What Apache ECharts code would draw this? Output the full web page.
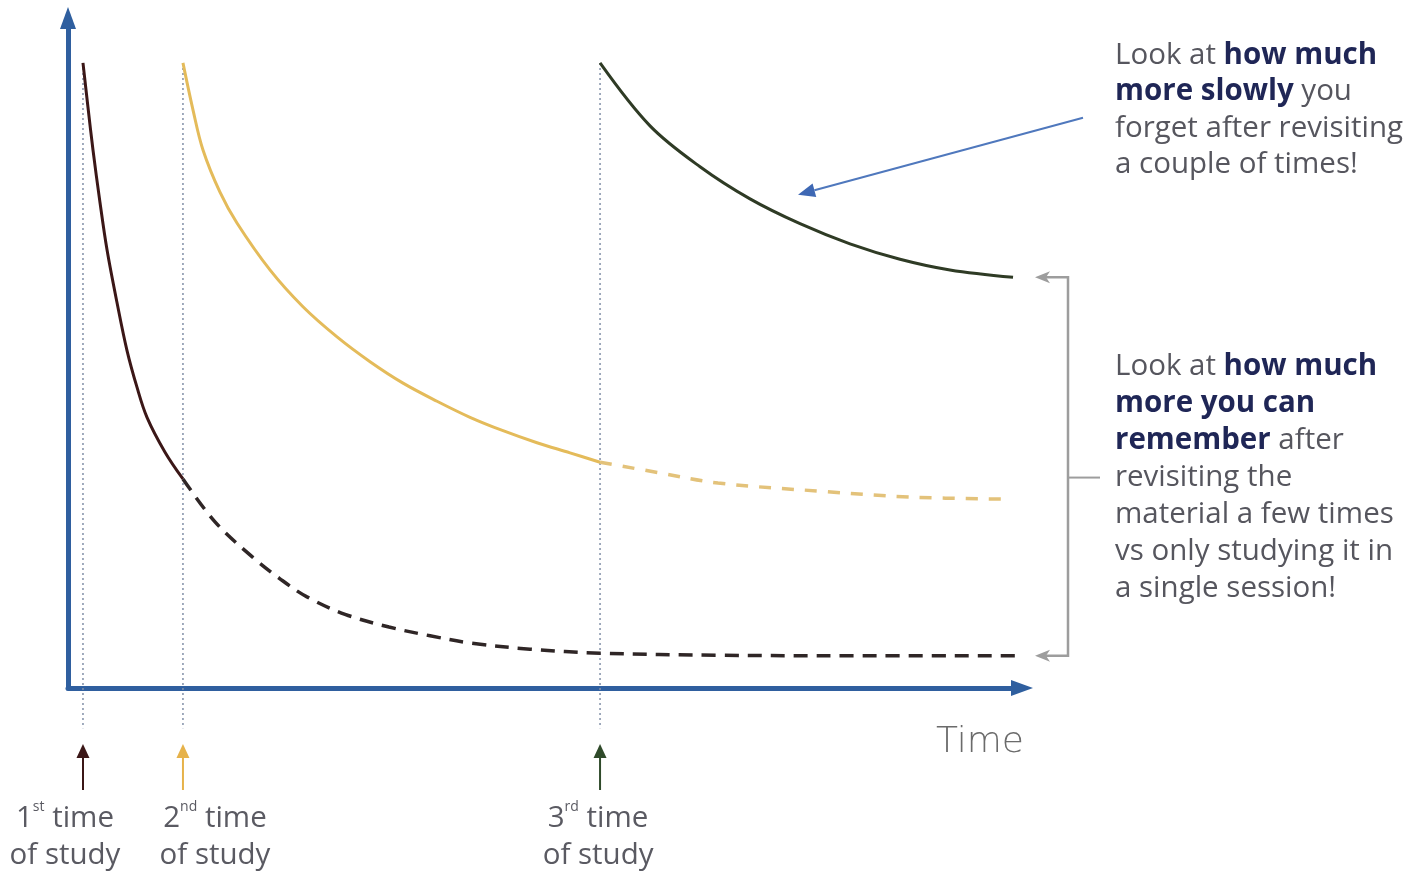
<!DOCTYPE html>
<html><head><meta charset="utf-8">
<script src="https://cdn.jsdelivr.net/npm/echarts@6/dist/echarts.min.js"></script>
<style>html,body{margin:0;padding:0;background:#fff}#c{width:1425px;height:872px}</style>
</head><body><div id="c"></div>
<script>
// ---- data (time units on x, retention % on y) ----
const studyTimes = [1.57, 12.05, 55.77];
const studyOrdinals = [['1', 'st'], ['2', 'nd'], ['3', 'rd']];
const firstSolidX = [1.57, 2.10, 2.62, 3.35, 4.09, 5.14, 6.18, 7.23, 8.28, 10.17, 12.05];
const firstSolidY = [93.3, 86.6, 80.3, 72.5, 65.4, 57.5, 50.4, 44.9, 40.4, 35.2, 31.2];
const firstDashX = [12.05, 15.41, 19.29, 22.22, 25.05, 29.04, 33.65, 37.95, 42.24, 48.43, 55.77, 68.13, 81.97, 99.69];
const firstDashY = [31.2, 24.8, 19.6, 16.3, 13.6, 11.0, 9.1, 7.8, 6.7, 5.8, 5.2, 4.9, 4.8, 4.8];
const secondSolidX = [12.05, 13.1, 14.15, 15.93, 17.71, 21.17, 24.63, 28.2, 31.66, 35.12, 38.68, 42.14, 45.6, 49.16, 52.62, 55.77];
const secondSolidY = [93.3, 86.3, 80.3, 74.0, 69.4, 62.4, 56.9, 52.4, 48.7, 45.5, 42.8, 40.4, 38.4, 36.6, 35.1, 33.7];
const secondDashX = [55.77, 62.05, 68.13, 79.56, 88.16, 97.9];
const secondDashY = [33.7, 32.1, 30.6, 29.3, 28.5, 28.2];
const thirdSolidX = [55.77, 61.01, 66.25, 71.49, 76.73, 81.97, 87.21, 92.45, 99.06];
const thirdSolidY = [93.3, 83.9, 77.8, 73.0, 69.3, 66.3, 64.0, 62.4, 61.3];
const axisName = 'Time';
const note1 = '{g|Look at }{b|how much}\n{b|more slowly}{g| you}\n{g|forget after revisiting}\n{g|a couple of times!}';
const note2 = '{g|Look at }{b|how much}\n{b|more you can}\n{b|remember}{g| after}\n{g|revisiting the}\n{g|material a few times}\n{g|vs only studying it in}\n{g|a single session!}';

// ---- styling ----
const AXIS = '#2f5f9f';
const C1 = '#3b1717', C1D = '#2f2626';
const C2 = '#e4bb5a', C2D = '#e3c27a';
const C3 = '#2f3b25';
const studyColors = ['#3b1717', '#e6b24a', '#2f4a2a'];
const DOT = '#8290a8';
const FONT = 'Open Sans';

const zip = (xs, ys) => xs.map((x, i) => [x, ys[i]]);
const chart = echarts.init(document.getElementById('c'), null, {renderer: 'canvas'});

const dotSeries = studyTimes.map(t => ({
  type: 'line', data: [[t, thirdSolidY[0]], [t, -6]], clip: false, symbol: 'none', silent: true, z: 1,
  lineStyle: {type: [2, 3], color: DOT, width: 1.5}
}));

const curve = (xs, ys, color, width, type) => ({
  type: 'line', data: zip(xs, ys), symbol: 'none', smooth: 0.35, silent: true, z: 3,
  lineStyle: {color: color, width: width, type: type || 'solid', cap: 'butt'}
});

chart.setOption({
  animation: false,
  backgroundColor: '#ffffff',
  grid: {left: 68, right: 403, top: 18, bottom: 184, containLabel: false, outerBoundsMode: 'none'},
  xAxis: {
    type: 'value', min: 0, max: 100,
    axisLine: {show: true, onZero: false, symbol: ['none', 'triangle'], symbolSize: [16, 22], lineStyle: {color: AXIS, width: 5}},
    axisTick: {show: false}, axisLabel: {show: false}, splitLine: {show: false},
    name: axisName, nameLocation: 'end', nameGap: 2,
    nameTextStyle: {align: 'right', verticalAlign: 'top', padding: [37, 0, 0, 0], fontSize: 36, color: '#6b6b6b', fontFamily: 'DejaVu Sans', fontWeight: 200}
  },
  yAxis: {
    type: 'value', min: 0, max: 100,
    axisLine: {show: true, onZero: false, symbol: ['none', 'triangle'], symbolSize: [16, 22], lineStyle: {color: AXIS, width: 5}},
    axisTick: {show: false}, axisLabel: {show: false}, splitLine: {show: false}
  },
  series: dotSeries.concat([
    curve(firstDashX, firstDashY, C1D, 3.5, [14, 9]),
    curve(secondDashX, secondDashY, C2D, 3.5, [12, 11]),
    curve(firstSolidX, firstSolidY, C1, 3),
    curve(secondSolidX, secondSolidY, C2, 3),
    curve(thirdSolidX, thirdSolidY, C3, 3)
  ])
});

// ---- annotations positioned through the chart's own scales ----
const px = (x, y) => chart.convertToPixel({gridIndex: 0}, [x, y]);
const g = [];
const labelDx = [-18, 32, -2];
const richLabel = {
  n: {fill: '#5a5a62', fontSize: 29.5, fontFamily: FONT, lineHeight: 37},
  s: {fill: '#5a5a62', fontSize: 14, fontFamily: FONT, lineHeight: 26, verticalAlign: 'top'}
};
studyTimes.forEach((t, i) => {
  const p = px(t, 0);
  const x = p[0], y0 = p[1];
  g.push({type: 'line', silent: true, shape: {x1: x, y1: y0 + 102, x2: x, y2: y0 + 66}, style: {stroke: studyColors[i], lineWidth: 2}});
  g.push({type: 'polygon', silent: true, shape: {points: [[x, y0 + 56], [x - 6.5, y0 + 70], [x + 6.5, y0 + 70]]}, style: {fill: studyColors[i]}});
  g.push({type: 'text', silent: true, x: x + labelDx[i], y: y0 + 112,
    style: {text: '{n|' + studyOrdinals[i][0] + '}{s|' + studyOrdinals[i][1] + '}{n| time}\n{n|of study}', rich: richLabel, align: 'center', verticalAlign: 'top'}});
});

const richNote = {
  g: {fill: '#56565e', fontSize: 29.5, fontFamily: FONT, lineHeight: 36.5},
  b: {fill: '#1f2656', fontSize: 29.5, fontFamily: FONT, fontWeight: 'bold', lineHeight: 36.5}
};
g.push({type: 'text', silent: true, x: 1115, y: 37, style: {text: note1, rich: richNote, align: 'left', verticalAlign: 'top'}});
g.push({type: 'text', silent: true, x: 1115, y: 348, style: {text: note2, rich: Object.assign({}, richNote, {
  g: Object.assign({}, richNote.g, {lineHeight: 37}), b: Object.assign({}, richNote.b, {lineHeight: 37})}), align: 'left', verticalAlign: 'top'}});

// blue pointer arrow towards the 3rd curve
const tp = px(thirdSolidX[4], thirdSolidY[4]);
const tip = [tp[0] - 2, tp[1] - 29];
const tail = [tip[0] + 285, tip[1] - 77];
const ang = Math.atan2(tail[1] - tip[1], tail[0] - tip[0]);
const hl = 17, hw = 7;
const bx = tip[0] + hl * Math.cos(ang), by = tip[1] + hl * Math.sin(ang);
g.push({type: 'line', silent: true, shape: {x1: tail[0], y1: tail[1], x2: bx, y2: by}, style: {stroke: '#4f78bd', lineWidth: 2}});
g.push({type: 'polygon', silent: true, shape: {points: [tip, [bx - hw * Math.sin(ang), by + hw * Math.cos(ang)], [bx + hw * Math.sin(ang), by - hw * Math.cos(ang)]]}, style: {fill: '#3e68b4'}});

// bracket comparing end values
const yTop = px(thirdSolidX[thirdSolidX.length - 1], thirdSolidY[thirdSolidY.length - 1])[1];
const yBot = px(firstDashX[firstDashX.length - 1], firstDashY[firstDashY.length - 1])[1];
const bxLine = 1068, arrowTipX = 1035;
const GREY = '#9d9d9d';
g.push({type: 'polyline', silent: true, shape: {points: [[arrowTipX + 8, yTop], [bxLine, yTop], [bxLine, yBot], [arrowTipX + 8, yBot]]}, style: {stroke: GREY, lineWidth: 2.5, fill: null}});
[yTop, yBot].forEach(y => {
  g.push({type: 'polygon', silent: true, shape: {points: [[arrowTipX, y], [arrowTipX + 15, y - 6], [arrowTipX + 11, y], [arrowTipX + 15, y + 6]]}, style: {fill: GREY}});
});
const yMid = (yTop + yBot) / 2 + 11;
g.push({type: 'line', silent: true, shape: {x1: bxLine, y1: yMid, x2: bxLine + 32, y2: yMid}, style: {stroke: GREY, lineWidth: 2}});

chart.setOption({graphic: {elements: g}});
</script>
</body></html>
